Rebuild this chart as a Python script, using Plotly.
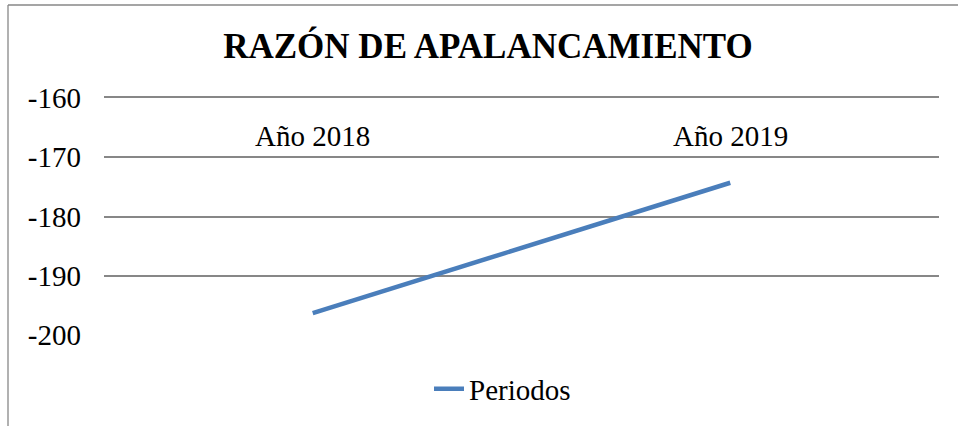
import plotly.graph_objects as go

categories = ["Año 2018", "Año 2019"]
values = [-196.3, -174.3]
series_name = "Periodos"
y_ticks = [-160, -170, -180, -190, -200]

W, H = 958, 426
L, R, T, B = 104, 19, 98, 91
SERIF = "Liberation Serif"
GRID = "#878787"
FS = 29

fig = go.Figure()
fig.add_trace(go.Scatter(
    x=categories, y=values, mode="lines", name=series_name,
    line=dict(color="#4a7ebb", width=4.5),
    showlegend=True,
))

pw = W - L - R
ph = H - T - B

def px_x(p):
    return (p - L) / pw

def px_y(p):
    return (H - B - p) / ph

cat_labels = [dict(text=c, xref="x", yref="paper", x=c, y=px_y(136),
                   xanchor="center", yanchor="middle", showarrow=False,
                   font=dict(family=SERIF, size=FS, color="black"))
              for c in categories]

fig.update_layout(
    width=W, height=H,
    margin=dict(l=L, r=R, t=T, b=B, autoexpand=False),
    paper_bgcolor="white", plot_bgcolor="white",
    font=dict(family=SERIF, size=FS, color="black"),
    title=dict(text="<b>RAZÓN DE APALANCAMIENTO</b>",
               font=dict(family=SERIF, size=35, color="black"),
               x=488 / W, xanchor="center", xref="container",
               y=1 - 46 / H, yanchor="middle", yref="container"),
    xaxis=dict(type="category", range=[-0.5, 1.5], side="top",
               showline=True, linecolor=GRID, linewidth=1.5,
               showgrid=False, ticks="", zeroline=False, automargin=False,
               showticklabels=False),
    yaxis=dict(range=[-200, -160], tickvals=y_ticks,
               ticktext=[str(v) for v in y_ticks],
               showgrid=True, gridcolor=GRID, gridwidth=1.5,
               zeroline=False, showline=False, ticks="", automargin=False,
               ticklabelstandoff=22,
               tickfont=dict(family=SERIF, size=FS, color="black")),
    legend=dict(orientation="h", x=px_x(429), y=px_y(389),
                xanchor="left", yanchor="middle",
                font=dict(family=SERIF, size=FS, color="black"),
                bgcolor="rgba(0,0,0,0)"),
    showlegend=True,
    shapes=[
        dict(type="line", xref="paper", yref="paper",
             x0=px_x(8), x1=px_x(W + 5), y0=px_y(5), y1=px_y(5),
             line=dict(color=GRID, width=1.3)),
        dict(type="line", xref="paper", yref="paper",
             x0=px_x(8), x1=px_x(8), y0=px_y(5), y1=px_y(H + 5),
             line=dict(color=GRID, width=1.3)),
    ],
    annotations=cat_labels + [
        dict(text="p", xref="paper", yref="paper",
             x=px_x(483), y=px_y(-4), xanchor="center", yanchor="bottom",
             showarrow=False, font=dict(family=SERIF, size=FS, color="black")),
    ],
)

fig.write_html("out.html", config={"displayModeBar": False},
               post_script="document.body.style.margin='0';document.body.style.padding='0';")
